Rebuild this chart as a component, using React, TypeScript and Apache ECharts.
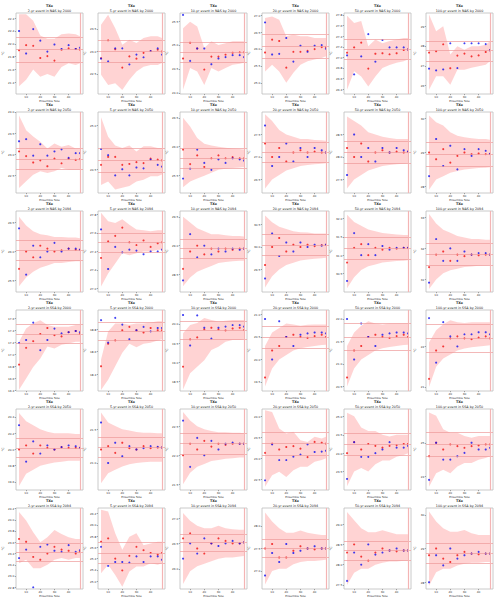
import React, { useEffect, useRef } from "react";
import * as echarts from "echarts";

const ensembleSizes = [5, 10, 15, 20, 25, 30, 35, 40, 45, 48];
const fullEnsemble = 48;
const xTicks = [10, 20, 30, 40];
const returnPeriods = ["2-yr", "5-yr", "10-yr", "20-yr", "50-yr", "100-yr"];

// ---------- NAS by 2000 ----------
const rangeNAS2000 = [[21.22, 22.48], [22.05, 23.86], [23.98, 25.67], [24.67, 27.07], [26.31, 27.84], [25.58, 29.67]];
const ticksNAS2000 = [[21.4, 21.6, 21.8, 22.0, 22.2, 22.4], [22.5, 23.0, 23.5], [24.0, 24.5, 25.0, 25.5], [25.0, 25.5, 26.0, 26.5, 27.0], [26.4, 26.6, 26.8, 27.0, 27.2, 27.4, 27.6, 27.8], [26, 27, 28, 29]];
const linesNAS2000 = [[21.71, 21.91, 22.11], [22.77, 23.0, 23.25], [24.65, 24.85, 25.06], [25.74, 26.08, 26.43], [26.96, 27.16, 27.35], [27.25, 27.77, 28.26]];
const redNAS2000 = [
  [21.9, 21.98, 21.97, 21.78, 21.81, 21.74, 21.91, 21.93, 21.92, 21.91],
  [22.85, 23.25, 23.05, 22.64, 22.89, 22.84, 22.97, 23.01, 23.04, 23.0],
  [24.72, 25.05, 24.93, 24.49, 24.76, 24.76, 24.8, 24.84, 24.85, 24.85],
  [25.9, 26.28, 26.24, 25.45, 25.92, 25.92, 25.95, 26.0, 26.06, 26.06],
  [27.09, 27.19, 27.28, 26.79, 27.07, 27.08, 27.06, 27.08, 27.14, 27.15],
  [27.67, 27.74, 28.09, 26.88, 27.52, 27.62, 27.48, 27.53, 27.7, 27.79],
];
const blueNAS2000 = [
  [22.2, 21.85, 22.23, 22.05, 21.88, 21.99, 21.92, 21.98, 21.92, 21.94],
  [22.84, 22.78, 23.07, 23.07, 22.71, 22.93, 22.87, 23.01, 23.07, 22.93],
  [25.63, 24.67, 24.93, 24.93, 24.6, 24.72, 24.75, 24.79, 24.79, 24.75],
  [26.79, 25.84, 25.86, 26.33, 25.63, 26.1, 25.92, 26.1, 26.12, 26.01],
  [27.04, 26.68, 27.02, 27.44, 26.92, 27.33, 27.19, 27.19, 27.19, 27.15],
  [26.86, 26.77, 26.82, 28.14, 26.89, 28.14, 28.14, 28.14, 28.1, 27.79],
];
const upperNAS2000 = [
  [22.46, 22.46, 22.36, 22.13, 22.08, 22.08, 22.15, 22.16, 22.15, 22.12],
  [23.6, 23.82, 23.52, 23.15, 23.26, 23.19, 23.3, 23.34, 23.34, 23.3],
  [25.35, 25.49, 25.39, 24.94, 25.08, 25.0, 25.04, 25.08, 25.08, 25.08],
  [26.92, 26.97, 26.87, 26.38, 26.43, 26.38, 26.38, 26.33, 26.33, 26.33],
  [27.79, 27.65, 27.69, 27.21, 27.34, 27.27, 27.31, 27.34, 27.37, 27.37],
  [29.59, 28.75, 29.0, 27.57, 27.99, 27.82, 27.99, 27.99, 28.07, 28.24],
];
const lowerNAS2000 = [
  [21.34, 21.44, 21.6, 21.49, 21.53, 21.49, 21.64, 21.7, 21.67, 21.7],
  [22.48, 22.25, 22.29, 22.14, 22.37, 22.55, 22.66, 22.7, 22.7, 22.74],
  [24.07, 24.52, 24.45, 24.17, 24.52, 24.45, 24.52, 24.59, 24.61, 24.63],
  [25.34, 25.54, 25.34, 25.0, 25.3, 25.54, 25.64, 25.69, 25.74, 25.79],
  [26.39, 26.74, 26.64, 26.45, 26.64, 26.8, 26.86, 26.9, 26.93, 26.96],
  [25.8, 26.47, 26.47, 26.05, 26.81, 26.81, 26.9, 26.98, 27.06, 27.23],
];

// ---------- NAS by 2050 ----------
const rangeNAS2050 = [[22.09, 24.0], [24.23, 25.15], [25.2, 26.6], [26.2, 28.0], [27.2, 29.0], [27.8, 30.2]];
const ticksNAS2050 = [[22.5, 23.0, 23.5, 24.0], [24.5, 25.0], [25.5, 26.0, 26.5], [26.5, 27.0, 27.5], [27.5, 28.0, 28.5], [28, 29, 30]];
const linesNAS2050 = [[22.65, 22.88, 23.14], [24.47, 24.6, 24.74], [25.62, 25.8, 25.98], [26.88, 27.1, 27.32], [27.85, 28.1, 28.35], [28.6, 28.96, 29.3]];
const redNAS2050 = [
  [23.07, 22.96, 22.81, 22.86, 22.72, 22.9, 22.79, 22.9, 22.87, 22.89],
  [24.55, 24.64, 24.64, 24.55, 24.56, 24.58, 24.57, 24.62, 24.61, 24.6],
  [25.95, 25.7, 25.85, 25.65, 25.8, 25.85, 25.8, 25.82, 25.8, 25.8],
  [27.3, 27.0, 27.2, 26.9, 27.1, 27.15, 27.1, 27.12, 27.1, 27.1],
  [28.2, 28.0, 28.3, 27.9, 28.1, 28.15, 28.1, 28.12, 28.1, 28.12],
  [29.0, 28.8, 29.1, 28.7, 28.9, 29.0, 28.95, 28.97, 28.95, 28.96],
];
const blueNAS2050 = [
  [23.31, 23.36, 22.97, 23.24, 22.97, 23.07, 23.12, 22.92, 23.03, 23.03],
  [24.73, 24.66, 24.43, 24.5, 24.43, 24.52, 24.51, 24.61, 24.55, 24.53],
  [25.45, 25.62, 25.95, 25.72, 25.6, 25.78, 25.72, 25.8, 25.78, 25.76],
  [27.7, 26.8, 27.0, 27.3, 26.9, 27.2, 27.0, 27.2, 27.15, 27.1],
  [27.6, 28.5, 28.0, 28.2, 27.9, 28.2, 28.1, 28.2, 28.15, 28.12],
  [28.3, 29.4, 28.6, 29.2, 28.5, 29.1, 28.9, 29.1, 29.05, 28.96],
];
const upperNAS2050 = [
  [23.92, 23.57, 23.42, 23.3, 23.14, 23.26, 23.18, 23.22, 23.14, 23.14],
  [25.09, 24.87, 24.77, 24.74, 24.77, 24.7, 24.76, 24.76, 24.74, 24.74],
  [26.5, 26.35, 26.15, 26.05, 26.02, 26.0, 25.98, 25.97, 25.96, 25.95],
  [27.95, 27.8, 27.6, 27.5, 27.45, 27.4, 27.4, 27.38, 27.37, 27.36],
  [28.9, 28.8, 28.7, 28.55, 28.5, 28.45, 28.42, 28.4, 28.4, 28.4],
  [30.1, 29.9, 29.8, 29.6, 29.5, 29.45, 29.42, 29.4, 29.4, 29.38],
];
const lowerNAS2050 = [
  [22.21, 22.37, 22.52, 22.6, 22.56, 22.6, 22.68, 22.64, 22.64, 22.64],
  [24.32, 24.36, 24.27, 24.29, 24.31, 24.36, 24.38, 24.42, 24.42, 24.44],
  [25.3, 25.4, 25.45, 25.5, 25.55, 25.6, 25.62, 25.63, 25.64, 25.65],
  [26.3, 26.5, 26.6, 26.7, 26.75, 26.8, 26.82, 26.84, 26.85, 26.86],
  [27.3, 27.5, 27.6, 27.7, 27.75, 27.8, 27.82, 27.84, 27.85, 27.86],
  [27.9, 28.2, 28.3, 28.4, 28.45, 28.5, 28.52, 28.54, 28.55, 28.56],
];

// ---------- NAS by 2094 ----------
const rangeNAS2094 = [[25.3, 26.7], [26.96, 27.84], [28.2, 29.6], [29.0, 30.8], [30.0, 32.2], [30.6, 33.2]];
const ticksNAS2094 = [[25.5, 26.0, 26.5], [27.0, 27.2, 27.4, 27.6, 27.8], [28.5, 29.0, 29.5], [29.5, 30.0, 30.5], [30.5, 31.0, 31.5, 32.0], [31, 32, 33]];
const linesNAS2094 = [[25.85, 26.03, 26.2], [27.39, 27.5, 27.6], [28.78, 28.95, 29.12], [29.82, 30.05, 30.28], [30.9, 31.2, 31.5], [31.45, 31.8, 32.15]];
const redNAS2094 = [
  [25.7, 26.0, 25.9, 26.1, 26.05, 26.0, 26.02, 26.05, 26.03, 26.03],
  [27.33, 27.51, 27.57, 27.66, 27.5, 27.47, 27.52, 27.45, 27.49, 27.5],
  [28.6, 28.9, 29.0, 28.85, 28.95, 28.9, 28.95, 28.93, 28.95, 28.95],
  [29.6, 30.0, 30.2, 29.9, 30.05, 30.0, 30.05, 30.02, 30.04, 30.05],
  [30.8, 31.2, 31.3, 31.0, 31.2, 31.15, 31.2, 31.18, 31.2, 31.2],
  [31.4, 31.8, 31.9, 31.6, 31.8, 31.75, 31.8, 31.78, 31.8, 31.8],
];
const blueNAS2094 = [
  [26.4, 25.6, 26.1, 25.9, 26.0, 26.15, 26.0, 26.05, 26.05, 26.03],
  [27.64, 27.21, 27.45, 27.39, 27.42, 27.41, 27.37, 27.4, 27.4, 27.42],
  [28.4, 29.2, 28.8, 29.0, 28.85, 28.95, 28.9, 28.95, 28.93, 28.95],
  [29.3, 30.3, 29.8, 30.1, 29.9, 30.1, 30.0, 30.05, 30.03, 30.05],
  [30.3, 31.6, 31.0, 31.3, 31.0, 31.25, 31.15, 31.2, 31.2, 31.2],
  [30.9, 32.3, 31.6, 32.0, 31.6, 31.9, 31.8, 31.85, 31.85, 31.8],
];
const upperNAS2094 = [
  [26.6, 26.45, 26.35, 26.3, 26.28, 26.25, 26.25, 26.24, 26.24, 26.23],
  [27.82, 27.73, 27.71, 27.75, 27.69, 27.64, 27.63, 27.62, 27.63, 27.63],
  [29.5, 29.4, 29.3, 29.25, 29.2, 29.2, 29.18, 29.17, 29.17, 29.16],
  [30.7, 30.55, 30.45, 30.4, 30.35, 30.33, 30.32, 30.3, 30.3, 30.3],
  [32.1, 31.9, 31.8, 31.7, 31.65, 31.6, 31.58, 31.56, 31.55, 31.55],
  [33.1, 32.8, 32.6, 32.5, 32.4, 32.35, 32.3, 32.3, 32.28, 32.28],
];
const lowerNAS2094 = [
  [25.4, 25.55, 25.65, 25.72, 25.76, 25.8, 25.8, 25.82, 25.83, 25.83],
  [27.02, 27.16, 27.27, 27.38, 27.36, 27.38, 27.4, 27.4, 27.42, 27.42],
  [28.3, 28.45, 28.55, 28.6, 28.65, 28.7, 28.72, 28.73, 28.74, 28.74],
  [29.1, 29.35, 29.5, 29.6, 29.65, 29.7, 29.72, 29.74, 29.75, 29.76],
  [30.1, 30.4, 30.6, 30.7, 30.75, 30.8, 30.82, 30.84, 30.85, 30.86],
  [30.7, 31.0, 31.2, 31.3, 31.35, 31.4, 31.42, 31.44, 31.45, 31.46],
];

// ---------- SSA by 2000 ----------
const rangeSSA2000 = [[16.39, 17.74], [18.25, 18.97], [18.26, 20.36], [19.3, 21.1], [20.4, 22.2], [20.9, 22.9]];
const ticksSSA2000 = [[16.4, 16.6, 16.8, 17.0, 17.2, 17.4, 17.6], [18.4, 18.6, 18.8], [18.5, 19.0, 19.5, 20.0], [19.5, 20.0, 20.5, 21.0], [20.5, 21.0, 21.5, 22.0], [21, 22]];
const linesSSA2000 = [[17.18, 17.34, 17.5], [18.7, 18.78, 18.86], [19.61, 19.84, 20.06], [20.25, 20.5, 20.75], [21.3, 21.6, 21.9], [21.85, 22.2, 22.55]];
const redSSA2000 = [
  [16.83, 17.11, 17.22, 17.34, 17.44, 17.32, 17.3, 17.37, 17.39, 17.34],
  [18.47, 18.67, 18.7, 18.79, 18.82, 18.79, 18.77, 18.81, 18.79, 18.79],
  [18.89, 19.6, 19.65, 19.86, 19.9, 19.86, 19.83, 19.88, 19.9, 19.84],
  [19.6, 20.2, 20.3, 20.5, 20.55, 20.5, 20.48, 20.52, 20.55, 20.5],
  [20.7, 21.3, 21.4, 21.6, 21.65, 21.6, 21.58, 21.62, 21.65, 21.6],
  [21.2, 21.9, 22.0, 22.2, 22.25, 22.2, 22.18, 22.22, 22.25, 22.2],
];
const blueSSA2000 = [
  [17.19, 17.24, 17.53, 17.07, 17.24, 17.43, 17.35, 17.37, 17.39, 17.37],
  [18.88, 18.68, 18.9, 18.84, 18.71, 18.79, 18.82, 18.78, 18.81, 18.81],
  [20.23, 19.44, 20.22, 19.9, 19.62, 19.9, 19.93, 19.97, 19.97, 19.93],
  [20.9, 20.0, 20.85, 20.5, 20.3, 20.55, 20.58, 20.6, 20.6, 20.58],
  [22.0, 21.1, 21.9, 21.6, 21.4, 21.65, 21.68, 21.7, 21.7, 21.68],
  [22.7, 21.6, 22.6, 22.25, 22.0, 22.3, 22.3, 22.35, 22.35, 22.3],
];
const upperSSA2000 = [
  [17.21, 17.43, 17.52, 17.57, 17.49, 17.46, 17.46, 17.46, 17.49, 17.49],
  [18.53, 18.78, 18.85, 18.85, 18.84, 18.85, 18.85, 18.86, 18.87, 18.87],
  [19.76, 19.97, 20.02, 20.15, 20.1, 20.06, 20.08, 20.1, 20.1, 20.1],
  [20.3, 20.6, 20.7, 20.8, 20.78, 20.75, 20.77, 20.78, 20.78, 20.78],
  [21.4, 21.7, 21.85, 21.95, 21.9, 21.88, 21.9, 21.9, 21.9, 21.9],
  [22.1, 22.4, 22.55, 22.65, 22.6, 22.58, 22.6, 22.6, 22.6, 22.6],
];
const lowerSSA2000 = [
  [16.41, 16.6, 16.79, 16.93, 17.13, 17.1, 17.16, 17.18, 17.21, 17.21],
  [18.26, 18.35, 18.47, 18.59, 18.67, 18.64, 18.67, 18.68, 18.7, 18.71],
  [18.3, 18.72, 18.89, 19.06, 19.32, 19.41, 19.54, 19.58, 19.58, 19.6],
  [19.4, 19.8, 20.0, 20.1, 20.2, 20.25, 20.28, 20.3, 20.32, 20.33],
  [20.5, 20.9, 21.1, 21.2, 21.3, 21.35, 21.38, 21.4, 21.42, 21.43],
  [21.0, 21.5, 21.7, 21.8, 21.9, 21.95, 21.98, 22.0, 22.02, 22.03],
];

// ---------- SSA by 2050 ----------
const rangeSSA2050 = [[19.5, 20.5], [20.6, 21.8], [21.4, 22.8], [22.25, 24.17], [23.0, 25.2], [23.6, 26.0]];
const ticksSSA2050 = [[19.6, 19.8, 20.0, 20.2, 20.4], [21.0, 21.5], [21.5, 22.0, 22.5], [22.5, 23.0, 23.5, 24.0], [23.5, 24.0, 24.5, 25.0], [24, 25]];
const linesSSA2050 = [[19.9, 20.02, 20.14], [21.08, 21.23, 21.38], [22.02, 22.2, 22.38], [23.08, 23.35, 23.63], [23.95, 24.25, 24.55], [24.6, 24.95, 25.3]];
const redSSA2050 = [
  [20.0, 20.05, 19.95, 20.05, 20.02, 20.0, 20.03, 20.02, 20.02, 20.02],
  [21.2, 21.25, 21.15, 21.3, 21.22, 21.2, 21.25, 21.22, 21.23, 21.23],
  [22.0, 22.2, 22.1, 22.25, 22.15, 22.2, 22.18, 22.2, 22.2, 22.2],
  [23.13, 23.35, 23.21, 23.27, 23.29, 23.23, 23.03, 23.39, 23.37, 23.35],
  [24.0, 24.3, 24.1, 24.25, 24.2, 24.15, 24.2, 24.22, 24.25, 24.25],
  [24.6, 25.0, 24.8, 24.95, 24.9, 24.85, 24.9, 24.92, 24.95, 24.95],
];
const blueSSA2050 = [
  [20.3, 19.85, 20.1, 19.95, 20.05, 20.0, 20.03, 20.05, 20.04, 20.02],
  [21.6, 21.0, 21.3, 21.1, 21.25, 21.2, 21.22, 21.25, 21.24, 21.23],
  [22.6, 21.8, 22.3, 22.0, 22.25, 22.1, 22.2, 22.22, 22.2, 22.2],
  [22.48, 23.33, 22.96, 22.96, 23.04, 23.09, 23.33, 23.15, 23.16, 23.18],
  [23.3, 24.3, 23.9, 23.9, 24.0, 24.1, 24.3, 24.15, 24.15, 24.2],
  [23.9, 25.0, 24.5, 24.5, 24.6, 24.7, 25.0, 24.8, 24.8, 24.85],
];
const upperSSA2050 = [
  [20.45, 20.35, 20.3, 20.25, 20.22, 20.2, 20.2, 20.2, 20.19, 20.19],
  [21.75, 21.6, 21.55, 21.5, 21.48, 21.46, 21.45, 21.45, 21.44, 21.44],
  [22.75, 22.6, 22.5, 22.45, 22.42, 22.4, 22.4, 22.39, 22.39, 22.38],
  [24.14, 24.1, 23.71, 23.59, 23.63, 23.43, 23.39, 23.51, 23.47, 23.51],
  [25.1, 25.0, 24.7, 24.6, 24.6, 24.5, 24.45, 24.5, 24.5, 24.5],
  [25.9, 25.8, 25.4, 25.3, 25.3, 25.2, 25.15, 25.2, 25.2, 25.2],
];
const lowerSSA2050 = [
  [19.55, 19.7, 19.75, 19.8, 19.82, 19.84, 19.85, 19.86, 19.86, 19.86],
  [20.7, 20.85, 20.9, 20.95, 20.98, 21.0, 21.01, 21.02, 21.02, 21.02],
  [21.5, 21.7, 21.8, 21.85, 21.9, 21.92, 21.94, 21.95, 21.96, 21.96],
  [22.33, 22.6, 22.68, 22.56, 22.72, 22.8, 22.8, 22.92, 22.96, 23.0],
  [23.1, 23.5, 23.6, 23.5, 23.7, 23.8, 23.8, 23.9, 23.95, 24.0],
  [23.7, 24.1, 24.2, 24.1, 24.3, 24.4, 24.4, 24.5, 24.55, 24.6],
];

// ---------- SSA by 2094 ----------
const rangeSSA2094 = [[22.77, 24.21], [24.86, 26.3], [25.6, 27.2], [26.6, 28.4], [27.4, 29.4], [27.8, 30.2]];
const ticksSSA2094 = [[22.8, 23.0, 23.2, 23.4, 23.6, 23.8, 24.0, 24.2], [25.0, 25.2, 25.4, 25.6, 25.8, 26.0, 26.2], [26.0, 26.5, 27.0], [27.0, 27.5, 28.0], [27.5, 28.0, 28.5, 29.0], [28, 29, 30]];
const linesSSA2094 = [[23.26, 23.43, 23.59], [25.31, 25.5, 25.69], [26.35, 26.52, 26.69], [27.3, 27.5, 27.7], [28.12, 28.35, 28.58], [28.55, 28.85, 29.15]];
const redSSA2094 = [
  [23.66, 23.61, 23.34, 23.29, 23.4, 23.52, 23.47, 23.45, 23.4, 23.43],
  [25.7, 25.76, 25.4, 25.19, 25.45, 25.61, 25.55, 25.5, 25.47, 25.5],
  [26.6, 26.7, 26.4, 26.3, 26.5, 26.6, 26.55, 26.5, 26.5, 26.52],
  [27.5, 27.6, 27.3, 27.3, 27.45, 27.55, 27.5, 27.48, 27.5, 27.5],
  [28.3, 28.5, 28.2, 28.1, 28.3, 28.4, 28.35, 28.33, 28.35, 28.35],
  [28.8, 29.0, 28.7, 28.6, 28.8, 28.9, 28.85, 28.83, 28.85, 28.85],
];
const blueSSA2094 = [
  [23.32, 23.47, 22.8, 23.52, 23.56, 23.45, 23.43, 23.55, 23.43, 23.46],
  [25.61, 25.27, 25.34, 25.34, 25.33, 25.44, 25.34, 25.44, 25.44, 25.38],
  [26.2, 26.5, 26.3, 26.6, 26.5, 26.45, 26.5, 26.55, 26.5, 26.52],
  [26.9, 27.4, 27.2, 27.6, 27.4, 27.45, 27.5, 27.55, 27.5, 27.5],
  [27.6, 28.3, 28.0, 28.5, 28.25, 28.3, 28.35, 28.4, 28.35, 28.35],
  [28.0, 28.8, 28.5, 29.0, 28.7, 28.8, 28.85, 28.9, 28.85, 28.85],
];
const upperSSA2094 = [
  [24.14, 23.99, 23.78, 23.6, 23.69, 23.82, 23.75, 23.69, 23.66, 23.66],
  [26.27, 26.24, 25.85, 25.56, 25.79, 25.85, 25.64, 25.67, 25.7, 25.7],
  [27.1, 26.95, 26.85, 26.8, 26.8, 26.85, 26.8, 26.78, 26.77, 26.77],
  [28.3, 28.1, 27.95, 27.85, 27.85, 27.9, 27.85, 27.82, 27.8, 27.8],
  [29.3, 29.1, 28.9, 28.8, 28.8, 28.85, 28.8, 28.75, 28.75, 28.75],
  [30.1, 29.8, 29.6, 29.5, 29.5, 29.55, 29.45, 29.4, 29.4, 29.4],
];
const lowerSSA2094 = [
  [23.23, 23.29, 23.14, 23.14, 23.2, 23.29, 23.32, 23.29, 23.32, 23.32],
  [25.14, 25.29, 25.11, 24.9, 25.17, 25.26, 25.26, 25.32, 25.29, 25.32],
  [25.7, 25.95, 26.05, 26.1, 26.15, 26.2, 26.22, 26.22, 26.24, 26.25],
  [26.7, 27.0, 27.05, 27.05, 27.15, 27.2, 27.22, 27.22, 27.24, 27.25],
  [27.5, 27.8, 27.9, 27.9, 28.0, 28.05, 28.08, 28.08, 28.1, 28.1],
  [27.9, 28.3, 28.4, 28.4, 28.5, 28.55, 28.58, 28.58, 28.6, 28.6],
];

const panelRows = [
  { label: "NAS by 2000", range: rangeNAS2000, ticks: ticksNAS2000, lines: linesNAS2000, red: redNAS2000, blue: blueNAS2000, upper: upperNAS2000, lower: lowerNAS2000 },
  { label: "NAS by 2050", range: rangeNAS2050, ticks: ticksNAS2050, lines: linesNAS2050, red: redNAS2050, blue: blueNAS2050, upper: upperNAS2050, lower: lowerNAS2050 },
  { label: "NAS by 2094", range: rangeNAS2094, ticks: ticksNAS2094, lines: linesNAS2094, red: redNAS2094, blue: blueNAS2094, upper: upperNAS2094, lower: lowerNAS2094 },
  { label: "SSA by 2000", range: rangeSSA2000, ticks: ticksSSA2000, lines: linesSSA2000, red: redSSA2000, blue: blueSSA2000, upper: upperSSA2000, lower: lowerSSA2000 },
  { label: "SSA by 2050", range: rangeSSA2050, ticks: ticksSSA2050, lines: linesSSA2050, red: redSSA2050, blue: blueSSA2050, upper: upperSSA2050, lower: lowerSSA2050 },
  { label: "SSA by 2094", range: rangeSSA2094, ticks: ticksSSA2094, lines: linesSSA2094, red: redSSA2094, blue: blueSSA2094, upper: upperSSA2094, lower: lowerSSA2094 },
];

const FONT = "DejaVu Sans";

function buildOption() {
  const grid: any[] = [];
  const xAxis: any[] = [];
  const yAxis: any[] = [];
  const series: any[] = [];
  const graphic: any[] = [];
  const L0 = 16, T0 = 13, DX = 82, DY = 99, W = 67, H = 81;

  panelRows.forEach((row, r) => {
    for (let c = 0; c < 6; c++) {
      const i = r * 6 + c;
      const left = L0 + DX * c;
      const top = T0 + DY * r;
      grid.push({ left, top, width: W, height: H, show: true, borderColor: "#bdbdbd", borderWidth: 0.8, backgroundColor: "#ffffff" });
      xAxis.push({
        type: "value", gridIndex: i, min: 2.85, max: 50.15,
        axisLine: { show: false }, splitLine: { show: false },
        axisTick: { show: true, length: 1.2, lineStyle: { color: "#555", width: 0.5 }, customValues: xTicks },
        axisLabel: { fontSize: 2.8, color: "#333", margin: 1.6, fontFamily: FONT, customValues: xTicks },
        name: "Ensemble Size", nameLocation: "middle", nameGap: 4.6,
        nameTextStyle: { fontSize: 2.8, color: "#333", fontFamily: FONT },
      });
      const ticks = row.ticks[c];
      const dec = ticks.every((t: number) => Number.isInteger(t)) ? 0 : 1;
      yAxis.push({
        type: "value", gridIndex: i, min: row.range[c][0], max: row.range[c][1],
        axisLine: { show: false }, splitLine: { show: false },
        axisTick: { show: true, length: 1.2, lineStyle: { color: "#555", width: 0.5 }, customValues: ticks },
        axisLabel: { fontSize: 2.8, color: "#333", margin: 1.8, fontFamily: FONT, customValues: ticks, formatter: (v: number) => v.toFixed(dec) },
        name: "°C", nameLocation: "middle", nameGap: 8.5, nameRotate: 90,
        nameTextStyle: { fontSize: 3.2, color: "#333", fontFamily: FONT },
      });
      const lower = row.lower[c];
      const upper = row.upper[c];
      series.push({
        type: "custom", xAxisIndex: i, yAxisIndex: i, silent: true, z: 1,
        data: ensembleSizes.map((x, k) => [x, lower[k], upper[k]]),
        encode: { x: 0, y: [1, 2] },
        renderItem: (params: any, api: any) => {
          if (params.dataIndex !== 0) return null;
          const pts: number[][] = [];
          for (let k = 0; k < ensembleSizes.length; k++) pts.push(api.coord([ensembleSizes[k], upper[k]]));
          for (let k = ensembleSizes.length - 1; k >= 0; k--) pts.push(api.coord([ensembleSizes[k], lower[k]]));
          return { type: "polygon", shape: { points: pts }, style: { fill: "rgba(255,140,140,0.38)", stroke: "none" } };
        },
        markLine: {
          silent: true, symbol: ["none", "none"], label: { show: false },
          lineStyle: { color: "#ee9a9a", width: 0.7, type: "solid" },
          data: [
            { yAxis: row.lines[c][0] },
            { yAxis: row.lines[c][1] },
            { yAxis: row.lines[c][2] },
            { xAxis: fullEnsemble, lineStyle: { color: "#f4b4b4", width: 1.2 } },
          ],
        },
      });
      series.push({
        type: "scatter", xAxisIndex: i, yAxisIndex: i, symbol: "circle", symbolSize: 2.1, z: 3,
        itemStyle: { color: "#f01010" },
        data: ensembleSizes.map((x, k) => [x, row.red[c][k]]),
      });
      series.push({
        type: "scatter", xAxisIndex: i, yAxisIndex: i, symbol: "circle", symbolSize: 2.1, z: 4,
        itemStyle: { color: "#1010f0" },
        data: ensembleSizes.map((x, k) => [x, row.blue[c][k]]),
      });
      const cx = left + W / 2;
      graphic.push({
        type: "text", x: cx, y: top - 7.2, silent: true,
        style: { text: "TXx", fontSize: 3.4, fontWeight: "bold", fontFamily: FONT, fill: "#222", align: "center", verticalAlign: "middle", textAlign: "center", textVerticalAlign: "middle" },
      });
      graphic.push({
        type: "text", x: cx, y: top - 2.4, silent: true,
        style: { text: returnPeriods[c] + " event in " + row.label, fontSize: 3.3, fontFamily: FONT, fill: "#222", align: "center", verticalAlign: "middle", textAlign: "center", textVerticalAlign: "middle" },
      });
    }
  });

  return { animation: false, backgroundColor: "#ffffff", grid, xAxis, yAxis, series, graphic };
}

export default function App() {
  const ref = useRef<HTMLDivElement>(null);
  useEffect(() => {
    if (!ref.current) return;
    const chart = echarts.init(ref.current, null, { renderer: "svg" });
    chart.setOption(buildOption() as any);
    return () => chart.dispose();
  }, []);
  return <div ref={ref} style={{ position: "fixed", left: 0, top: 0, width: 500, height: 603, background: "#fff" }} />;
}
